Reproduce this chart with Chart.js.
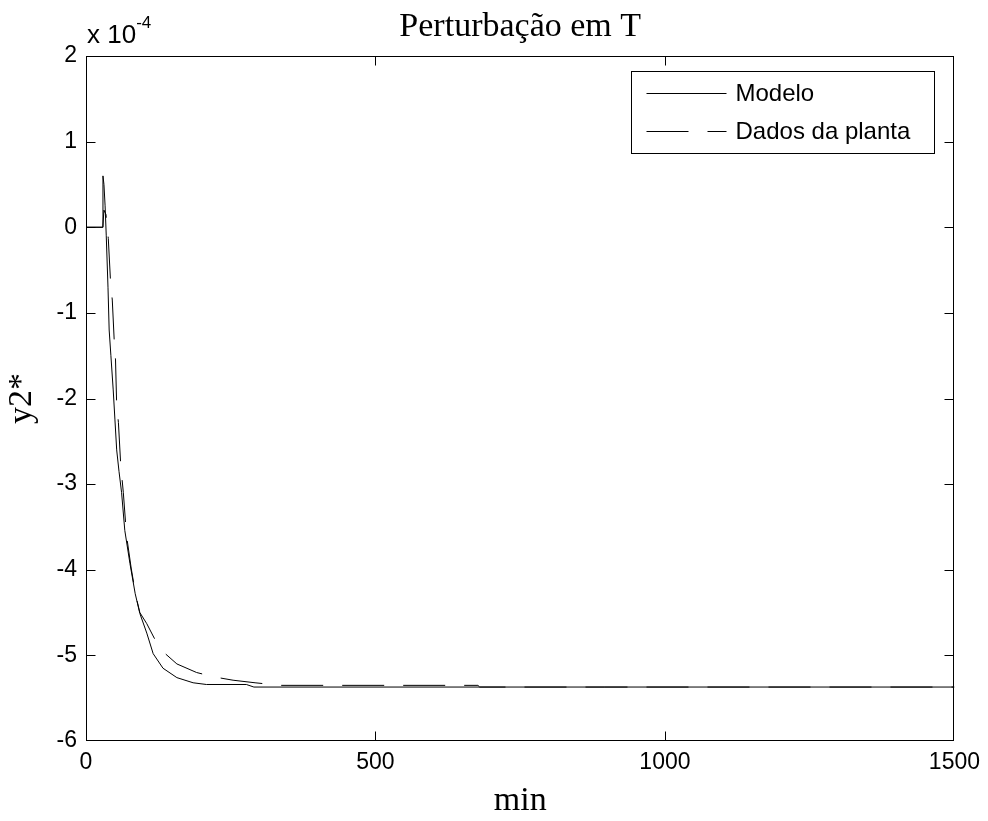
<!DOCTYPE html>
<html>
<head>
<meta charset="utf-8">
<script src="https://cdn.jsdelivr.net/npm/chart.js@4"></script>
<style>
html, body { margin: 0; padding: 0; background: #fff; }
</style>
</head>
<body>
<canvas id="perturbacao" width="988" height="821"></canvas>
<script>
// valores de y2* em unidades de 1e-4
const tModelo = [0, 29, 29.3, 31, 33, 35, 38, 40, 43, 47, 50, 53, 57, 61.5, 67, 76, 85, 93, 105, 116, 133, 157, 185, 208, 277, 290, 1500];
const yModelo = [0, 0, 0.6, 0.5, 0.25, -0.1, -0.7, -1.2, -1.5, -1.9, -2.25, -2.6, -2.85, -3.1, -3.54, -3.93, -4.28, -4.51, -4.74, -4.98, -5.15, -5.26, -5.32, -5.34, -5.34, -5.37, -5.37];

const tPlanta = [0, 29, 31, 34.5, 38.5, 42.5, 45.4, 49, 51, 53, 56, 60, 64.5, 70, 78, 86, 93, 105, 118, 133.5, 157, 191, 220, 254, 292, 335, 677, 680, 1500];
const yPlanta = [0, 0, 0.2, 0.15, -0.13, -0.65, -0.85, -1.36, -1.55, -2.08, -2.28, -2.78, -3.1, -3.6, -3.98, -4.3, -4.5, -4.63, -4.8, -4.96, -5.1, -5.2, -5.25, -5.29, -5.32, -5.35, -5.35, -5.37, -5.37];

const xTicks = [0, 500, 1000, 1500];
const yTicks = [2, 1, 0, -1, -2, -3, -4, -5, -6];

const titulo = 'Perturbação em T';
const xTitulo = 'min';
const yTitulo = 'y2*';
const expoente = '-4';

const ctxPerturbacao = document.getElementById('perturbacao');

const dataPerturbacao = {
    datasets: [{
        label: 'Modelo',
        borderColor: '#000',
        borderWidth: 1,
        pointRadius: 0,
        data: tModelo.map((t, i) => ({ x: t, y: yModelo[i] })),
    }, {
        label: 'Dados da planta',
        borderColor: '#000',
        borderWidth: 1,
        borderDash: [42, 19],
        pointRadius: 0,
        data: tPlanta.map((t, i) => ({ x: t, y: yPlanta[i] })),
    }]
};

// moldura, marcas internas, titulo, legenda e expoente no estilo do MATLAB
const estiloMatlab = {
    id: 'estiloMatlab',
    afterDraw(chart) {
        const c = chart.ctx;
        const a = chart.chartArea;
        const sx = chart.scales.x;
        const sy = chart.scales.y;
        const L = Math.round(a.left) + 0.5, R = Math.round(a.right) - 0.5;
        const T = Math.round(a.top) + 0.5, B = Math.round(a.bottom) - 0.5;
        const limita = (v, lo, hi) => Math.min(Math.max(v, lo), hi);
        c.save();
        c.strokeStyle = '#000';
        c.lineWidth = 1;
        c.setLineDash([]);
        c.strokeRect(L, T, R - L, B - T);
        c.beginPath();
        xTicks.forEach(v => {
            const px = limita(Math.round(sx.getPixelForValue(v)) + 0.5, L, R);
            c.moveTo(px, B); c.lineTo(px, B - 9);
            c.moveTo(px, T); c.lineTo(px, T + 9);
        });
        yTicks.forEach(v => {
            const py = limita(Math.round(sy.getPixelForValue(v)) + 0.5, T, B);
            c.moveTo(L, py); c.lineTo(L + 9, py);
            c.moveTo(R, py); c.lineTo(R - 9, py);
        });
        c.stroke();

        // titulo
        c.fillStyle = '#000';
        c.textAlign = 'center';
        c.textBaseline = 'alphabetic';
        c.font = '34px "Liberation Serif"';
        c.fillText(titulo, (a.left + a.right) / 2, 36);

        // expoente
        c.textAlign = 'left';
        c.font = '26px "Liberation Sans"';
        const base = 'x 10';
        c.fillText(base, a.left + 1, a.top - 13);
        const w = c.measureText(base).width;
        c.font = '17px "Liberation Sans"';
        c.fillText(expoente, a.left + 1 + w, a.top - 28);

        // legenda
        const bx = Math.round(a.right - 20 - 303) + 0.5;
        const by = Math.round(a.top + 15) + 0.5;
        c.fillStyle = '#fff';
        c.fillRect(bx, by, 303, 82);
        c.strokeRect(bx, by, 303, 82);
        c.font = '24px "Liberation Sans"';
        c.textBaseline = 'middle';
        chart.data.datasets.forEach((ds, i) => {
            const ly = by + 21 + i * 38;
            c.beginPath();
            c.setLineDash(ds.borderDash || []);
            c.moveTo(bx + 15, Math.round(ly) + 0.5);
            c.lineTo(bx + 95, Math.round(ly) + 0.5);
            c.stroke();
            c.setLineDash([]);
            c.fillStyle = '#000';
            c.fillText(ds.label, bx + 104, ly + 2);
        });
        c.restore();
    }
};

const configPerturbacao = {
    type: 'line',
    data: dataPerturbacao,
    plugins: [estiloMatlab],
    options: {
        responsive: false,
        animation: false,
        layout: {
            padding: { left: 0, right: 33, top: 56, bottom: 0 }
        },
        plugins: {
            legend: { display: false },
            tooltip: { enabled: false },
            title: { display: false }
        },
        scales: {
            x: {
                type: 'linear',
                min: 0,
                max: 1500,
                afterBuildTicks: s => { s.ticks = xTicks.map(v => ({ value: v })); },
                afterFit: s => { s.height = 80; },
                grid: { display: false, drawTicks: false },
                border: { display: false },
                ticks: {
                    color: '#000',
                    font: { family: 'Liberation Sans', size: 23 },
                    padding: 8,
                    maxRotation: 0,
                    autoSkip: false,
                    callback: v => String(v)
                },
                title: {
                    display: true,
                    text: xTitulo,
                    color: '#000',
                    font: { family: 'Liberation Serif', size: 34, lineHeight: 1.2 },
                    padding: { top: 0, bottom: 0 }
                }
            },
            y: {
                min: -6,
                max: 2,
                afterBuildTicks: s => { s.ticks = yTicks.map(v => ({ value: v })); },
                afterFit: s => { s.width = 86; },
                grid: { display: false, drawTicks: false },
                border: { display: false },
                ticks: {
                    color: '#000',
                    font: { family: 'Liberation Sans', size: 23 },
                    padding: 9,
                    autoSkip: false,
                    callback: v => String(v)
                },
                title: {
                    display: true,
                    text: yTitulo,
                    color: '#000',
                    font: { family: 'Liberation Serif', size: 34, lineHeight: 1.2 },
                    padding: { top: 2, bottom: 0 }
                }
            }
        }
    }
};

const chartPerturbacao = new Chart(ctxPerturbacao, configPerturbacao);
</script>
</body>
</html>
